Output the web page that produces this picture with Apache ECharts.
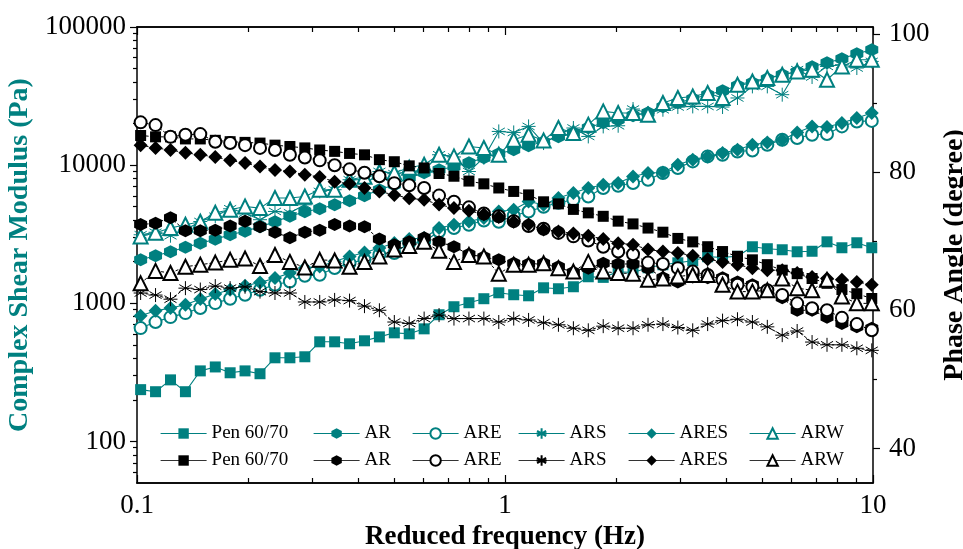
<!DOCTYPE html>
<html>
<head>
<meta charset="utf-8">
<script src="https://cdn.jsdelivr.net/npm/echarts@6/dist/echarts.min.js"></script>
<style>
  html, body { margin: 0; padding: 0; background: #ffffff; }
  #chart { width: 963px; height: 549px; }
</style>
</head>
<body>
<div id="chart"></div>
<script>
// Reduced frequency (Hz)
const freq = [0.1023,0.1123,0.1233,0.1354,0.1486,0.1632,0.1791,0.1966,0.2159,0.2371,
  0.2603,0.2858,0.3137,0.3444,0.3781,0.4151,0.4557,0.5003,0.5492,0.6029,
  0.6619,0.7266,0.798,0.8761,0.9618,1.056,1.159,1.273,1.397,1.534,
  1.684,1.849,2.03,2.228,2.447,2.686,2.949,3.237,3.554,3.901,
  4.283,4.702,5.162,5.667,6.222,6.83,7.499,8.232,9.038,9.923];

// Complex shear modulus G* (Pa)
const gPen = [237,229,279,229,324,346,314,324,309,403,403,410,526,526,509,535,571,611,601,653,
  826,944,1009,1079,1191,1153,1133,1294,1274,1317,1556,1540,1690,1670,1807,1900,1963,2032,2173,2150,
  2190,2565,2483,2440,2360,2380,2786,2523,2742,2523];
const gAR = [2065,2208,2360,2545,2718,2904,3133,3319,3581,3890,4266,4599,4831,5164,5521,5998,6637,7211,8110,8810,
  9268,9727,10400,11320,12100,12940,13810,14760,16040,17140,18650,20260,21320,22790,23950,26470,28300,30270,32360,34590,
  37580,39500,42230,45150,47420,51600,55090,58920,64080,68520];
const gARE = [661,731,794,849,923,1003,1078,1153,1253,1362,1439,1582,1608,1798,1954,2065,2245,2309,2728,2803,
  3311,3505,3702,3978,3890,4303,4621,4997,5344,5614,5934,6823,7091,7418,7839,8770,9527,10640,11570,11890,
  12560,12770,14050,15280,15710,16600,16800,19070,20720,20900];
const gARS = [3133,3266,3083,3404,3908,4266,4831,4498,4027,4621,4519,5164,6457,6637,7839,7839,8995,8670,8995,9162,
  11890,11460,8995,11320,17540,17250,19070,14450,16600,18570,16140,19070,19280,25480,23850,25180,26350,26610,26610,26350,
  30630,37150,37150,32360,49090,43450,51860,53330,50470,56360];
const gARES = [811,882,923,975,1072,1166,1253,1340,1415,1521,1655,1798,1849,2009,2183,2333,2512,2728,2917,2965,
  3505,3702,3908,4138,4621,4753,5458,5164,5781,6281,6823,7211,7418,8279,8770,8851,10070,10940,11570,12240,
  12940,14050,14590,15280,17250,19070,18880,20180,21930,23850];
const gARW = [3048,3243,3505,3702,3890,4519,4753,5022,4887,5781,5781,5934,6637,6637,7839,8241,8954,8810,9572,10070,
  11890,11570,13650,13300,11890,15280,16600,15100,18570,17080,19630,24490,23850,23850,23170,28180,30630,31430,33250,30630,
  38200,40360,42760,45150,47680,49090,41500,51860,57940,57940];

// Phase angle (degree)
const pPen = [85.3,85.1,85.1,84.8,84.8,84.6,84.4,84.3,84.2,83.9,83.7,83.5,83.2,83.0,82.7,82.5,81.8,81.5,80.9,80.6,
  79.8,79.4,78.7,78.3,77.7,77.2,76.7,75.7,75.4,74.6,74.1,73.6,72.9,72.5,71.9,71.3,70.4,69.9,69.2,68.5,
  67.8,67.3,66.6,65.8,65.3,64.6,63.9,63.0,62.4,61.7];
const pAR = [72.4,72.6,73.4,71.5,71.5,71.6,72.2,72.9,72.1,71.3,70.5,71.3,71.6,72.4,72.2,72.1,70.3,69.5,69.9,70.5,
  69.9,69.2,68.1,67.7,67.3,66.8,66.7,66.8,66.3,65.5,66.1,66.8,66.7,66.7,66.1,64.7,64.1,64.8,64.7,64.7,
  64.1,63.7,62.9,61.8,60.0,60.0,59.0,58.1,57.6,57.4];
const pARE = [87.2,86.8,85.1,85.4,85.5,84.4,84.2,83.9,83.5,83.2,82.5,82.1,81.7,81.0,80.4,79.9,79.4,78.4,78.1,77.7,
  76.6,75.7,74.9,74.0,73.6,72.9,72.2,71.8,71.2,70.7,70.1,69.2,68.5,68.1,66.9,66.7,66.1,65.6,65.1,64.4,
  63.7,63.4,62.9,62.2,61.0,60.3,60.0,58.9,58.0,57.1];
const pARS = [62.5,62.2,61.6,63.2,63.0,63.5,63.2,63.4,62.7,62.5,62.5,61.2,61.2,61.5,61.4,60.6,60.0,58.3,58.1,58.8,
  59.3,58.8,58.8,58.8,58.3,58.8,58.6,58.2,57.9,57.4,57.1,57.7,57.4,57.4,57.9,58.0,57.5,57.1,58.0,58.5,
  58.7,58.3,57.6,56.4,57.0,55.4,55.0,55.0,54.5,54.2];
const pARES = [83.9,83.5,83.2,82.8,82.5,82.2,81.7,81.3,80.8,80.3,80.1,79.6,79.3,78.6,78.3,77.7,77.2,76.7,76.2,76.0,
  75.3,74.8,74.4,73.9,73.5,72.8,72.4,71.7,71.4,71.1,70.8,70.3,69.7,69.5,68.8,68.5,68.3,67.9,67.4,67.0,
  66.6,66.1,65.8,65.8,65.4,64.8,64.6,64.4,64.1,63.7];
const pARW = [63.9,65.7,65.4,66.3,66.6,66.9,67.3,67.5,66.4,68.0,67.0,66.2,67.3,67.2,66.3,67.0,67.8,68.8,69.3,69.9,
  68.6,67.0,68.0,67.8,65.3,66.6,66.6,66.8,66.1,65.6,67.0,65.6,65.4,65.3,64.4,64.6,64.9,65.1,65.1,63.7,
  62.7,62.7,62.9,64.6,63.2,62.9,64.4,62.0,61.0,61.0];

// Axis tick values
const xMajor = [0.1, 1, 10];
const xMinor = [0.2,0.3,0.4,0.5,0.6,0.7,0.8,0.9,2,3,4,5,6,7,8,9];
const gMajor = [100, 1000, 10000, 100000];
const gMinor = [60,70,80,90,200,300,400,500,600,700,800,900,2000,3000,4000,5000,6000,7000,8000,9000,
  20000,30000,40000,50000,60000,70000,80000,90000];
const pMajor = [40, 60, 80, 100];
const pMinor = [50, 70, 90];

const TEAL = '#008080';
const BLACK = '#000000';
const FONT = 'Liberation Serif';

const HEX = 'path://M0,-10L8.66,-5L8.66,5L0,10L-8.66,5L-8.66,-5Z';
const STAR = 'path://M0,-10L0,10M-8.66,-5L8.66,5M-8.66,5L8.66,-5M-10,0L10,0';

const materials = [
  { label: 'Pen 60/70', g: gPen,  p: pPen,  symbol: 'rect',          size: 11, kind: 'fill' },
  { label: 'AR',        g: gAR,   p: pAR,   symbol: HEX,             size: 13, kind: 'fill' },
  { label: 'ARE',       g: gARE,  p: pARE,  symbol: 'emptyCircle',   size: 12, kind: 'empty' },
  { label: 'ARS',       g: gARS,  p: pARS,  symbol: STAR,            size: 14, kind: 'stroke' },
  { label: 'ARES',      g: gARES, p: pARES, symbol: 'diamond',       size: 14, kind: 'fill' },
  { label: 'ARW',       g: gARW,  p: pARW,  symbol: 'emptyTriangle', size: 14, kind: 'empty' }
];

function pairs(values) {
  return values.map((v, i) => [freq[i], v]);
}

function markerStyle(kind, color) {
  if (kind === 'stroke') return { color: 'none', borderColor: color, borderWidth: 1 };
  if (kind === 'empty') return { color: color, borderWidth: 1.1 };
  return { color: color };
}

const series = [];
materials.forEach(m => {
  series.push({
    name: m.label + ' · G*',
    type: 'line',
    xAxisIndex: 0, yAxisIndex: 0,
    data: pairs(m.g),
    symbol: m.symbol, symbolSize: m.size, showAllSymbol: true,
    lineStyle: { color: TEAL, width: 1.1 },
    itemStyle: markerStyle(m.kind, TEAL),
    z: 3
  });
});
materials.forEach(m => {
  series.push({
    name: m.label + ' · δ',
    type: 'line',
    xAxisIndex: 0, yAxisIndex: 2,
    data: pairs(m.p),
    symbol: m.symbol, symbolSize: m.size, showAllSymbol: true,
    lineStyle: { color: BLACK, width: 1, type: [3, 2] },
    itemStyle: markerStyle(m.kind, BLACK),
    z: 4
  });
});

// Legend: two rows of six entries (G* row, phase-angle row)
const legendCols = [160, 313, 412, 518, 628, 749];
const legends = [];
series.forEach((s, i) => {
  const col = i % 6;
  const row = Math.floor(i / 6);
  legends.push({
    data: [s.name],
    left: legendCols[col],
    top: row === 0 ? 424 : 451,
    itemWidth: 46,
    itemHeight: 13,
    padding: 0,
    selectedMode: false,
    lineStyle: { type: 'solid', width: 1.2, color: row === 0 ? TEAL : '#333' },
    formatter: name => name.split(' · ')[0],
    textStyle: { fontFamily: FONT, fontSize: 19, color: '#000' }
  });
});

const axisLineStyle = { show: true, lineStyle: { color: '#000', width: 1.5 } };
const labelFont = { fontFamily: FONT, fontSize: 27, color: '#000' };

function logX(position, showLabel, ticks, len) {
  return {
    type: 'log', logBase: 10, min: 0.1, max: 10, position: position,
    axisLine: axisLineStyle,
    axisTick: { show: true, inside: true, length: len, customValues: ticks, lineStyle: { color: '#000', width: 1.2 } },
    axisLabel: showLabel
      ? Object.assign({ show: true, customValues: xMajor, margin: 9, formatter: v => String(+v.toPrecision(3)) }, labelFont)
      : { show: false },
    splitLine: { show: false }
  };
}

const xAxes = [
  Object.assign(logX('bottom', true, xMajor, 8), {
    name: 'Reduced frequency (Hz)', nameLocation: 'middle', nameGap: 34,
    nameTextStyle: { fontFamily: FONT, fontSize: 27, fontWeight: 'bold', color: '#000' }
  }),
  logX('bottom', false, xMinor, 5),
  logX('top', false, xMajor, 8),
  logX('top', false, xMinor, 5)
];

const yAxes = [
  {
    type: 'log', logBase: 10, min: 50, max: 100000, position: 'left',
    axisLine: axisLineStyle,
    axisTick: { show: true, inside: false, length: 7, customValues: gMajor, lineStyle: { color: '#000', width: 1.2 } },
    axisLabel: Object.assign({ show: true, customValues: gMajor, margin: 11, formatter: v => String(Math.round(v)) }, labelFont),
    splitLine: { show: false },
    name: 'Complex Shear Modulus (Pa)', nameLocation: 'middle', nameRotate: 90, nameGap: 102,
    nameTextStyle: { fontFamily: FONT, fontSize: 28, fontWeight: 'bold', color: TEAL }
  },
  {
    type: 'log', logBase: 10, min: 50, max: 100000, position: 'left',
    axisLine: { show: false },
    axisTick: { show: true, inside: false, length: 4, customValues: gMinor, lineStyle: { color: '#000', width: 1.2 } },
    axisLabel: { show: false }, splitLine: { show: false }
  },
  {
    type: 'value', min: 35, max: 101, position: 'right',
    axisLine: axisLineStyle,
    axisTick: { show: true, inside: false, length: 7, customValues: pMajor, lineStyle: { color: '#000', width: 1.2 } },
    axisLabel: Object.assign({ show: true, customValues: pMajor, margin: 16 }, labelFont),
    splitLine: { show: false },
    name: 'Phase Angle (degree)', nameLocation: 'middle', nameRotate: 90, nameGap: 60,
    nameTextStyle: { fontFamily: FONT, fontSize: 28, fontWeight: 'bold', color: '#000' }
  },
  {
    type: 'value', min: 35, max: 101, position: 'right',
    axisLine: { show: false },
    axisTick: { show: true, inside: false, length: 4, customValues: pMinor, lineStyle: { color: '#000', width: 1.2 } },
    axisLabel: { show: false }, splitLine: { show: false }
  }
];

const chart = echarts.init(document.getElementById('chart'), null, { renderer: 'canvas' });
chart.setOption({
  animation: false,
  backgroundColor: '#ffffff',
  grid: { left: 137, right: 90, top: 27, bottom: 66, containLabel: false, outerBoundsMode: 'none' },
  legend: legends,
  xAxis: xAxes,
  yAxis: yAxes,
  series: series
});
</script>
</body>
</html>
